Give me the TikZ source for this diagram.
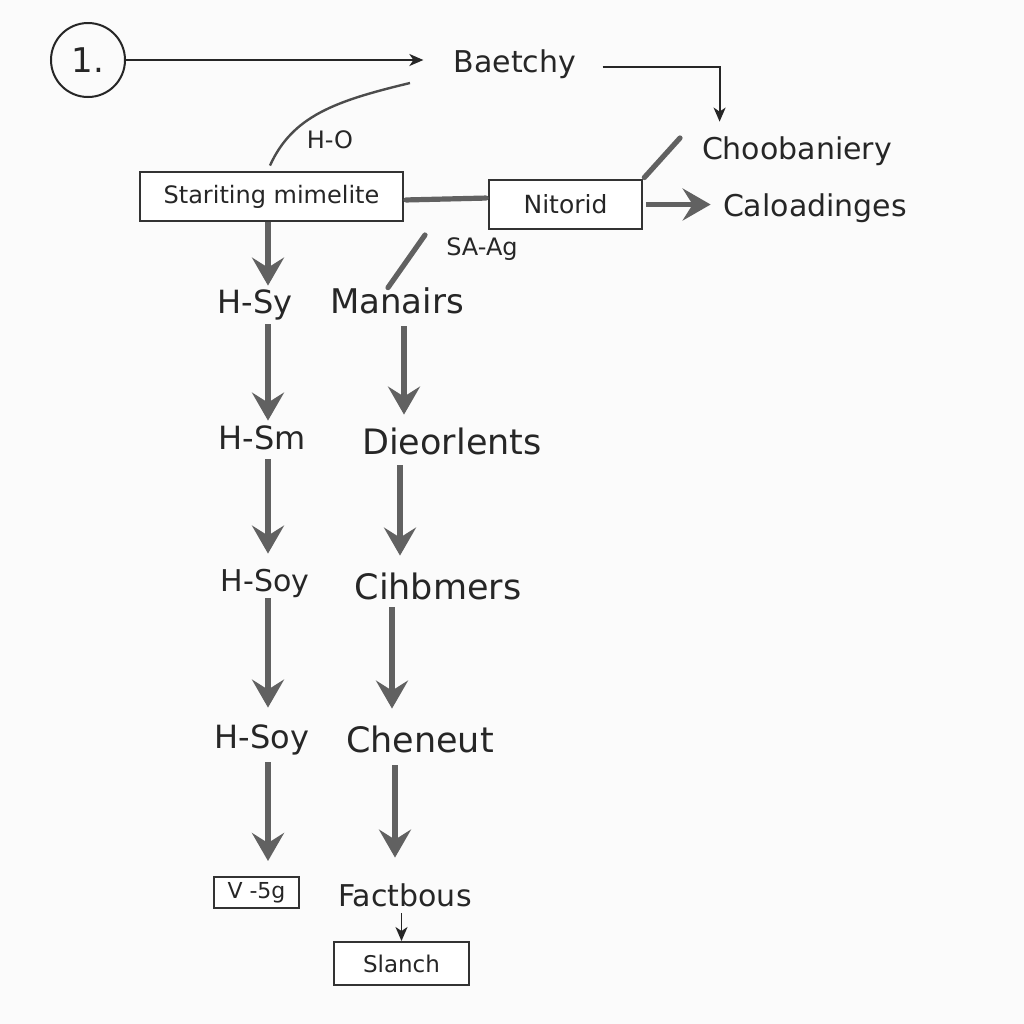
\documentclass[tikz,border=0pt]{standalone}
\usepackage{fontspec}
\setmainfont{DejaVu Sans}
\usetikzlibrary{arrows.meta}
\newcommand{\fs}[1]{\fontsize{#1}{#1}\selectfont}
\begin{document}
\begin{tikzpicture}[x=0.5pt,y=-0.5pt,
  txt/.style={text=black!85, inner sep=1pt, text height=0.75em, text depth=0.25em},
  box/.style={draw=black!80, line width=1pt, fill=white, inner sep=0pt, text=black!85},
  bigarr/.style={draw=black!62, line width=2.6pt, -{Stealth[length=14pt,width=16pt,inset=5pt]}},
  bigline/.style={draw=black!62, line width=2.6pt, line cap=round},
  thinarr/.style={draw=black!85, line width=0.9pt, -{Stealth[length=7pt,width=6pt,inset=2pt]}}
]
\fill[black!1.5] (0,0) rectangle (1024,1024);
\useasboundingbox (0,0) rectangle (1024,1024);

% nodes
\node[circle, draw=black!85, line width=1pt, minimum size=37pt, inner sep=0pt, font=\fs{17}, text=black!85] (circ) at (88,60) {1.};
\node[txt, font=\fs{15}] (baetchy) at (515,67) {Baetchy};
\node[txt, font=\fs{15}] (choob) at (797,154) {Choobaniery};
\node[txt, font=\fs{15}] (calo) at (815,211) {Caloadinges};
\node[box, minimum width=131.5pt, minimum height=24.5pt, font=\fs{12}] (start) at (271.5,196.5) {Stariting mimelite};
\node[box, minimum width=76.5pt, minimum height=24.5pt, font=\fs{12.5}] (nit) at (565.5,204.5) {Nitorid};
\node[txt, font=\fs{12}] (ho) at (330,143) {H-O};
\node[txt, font=\fs{12}] (saag) at (482,250) {SA-Ag};

\node[txt, font=\fs{16}] (hsy) at (255,308) {H-Sy};
\node[txt, font=\fs{17}] (manairs) at (397,308) {Manairs};
\node[txt, font=\fs{16}] (hsm) at (262,444) {H-Sm};
\node[txt, font=\fs{17.5}] (dieor) at (452,449) {Dieorlents};
\node[txt, font=\fs{15}] (hsoya) at (265,586) {H-Soy};
\node[txt, font=\fs{17.5}] (cihb) at (438,594) {Cihbmers};
\node[txt, font=\fs{16}] (hsoyb) at (262,743) {H-Soy};
\node[txt, font=\fs{17.5}] (chen) at (420,747) {Cheneut};
\node[box, minimum width=42.5pt, minimum height=15.5pt, font=\fs{11}] (vg) at (256.5,892.5) {V -5g};
\node[txt, font=\fs{15}] (factb) at (405,901) {Factbous};
\node[box, minimum width=67.5pt, minimum height=21.5pt, font=\fs{11.5}] (slanch) at (401.5,963.5) {Slanch};

\coordinate (hoend) at (410,83);
\coordinate (chtip) at (680,138);
\coordinate (satip) at (425,235);

% top connectors
\draw[thinarr, shorten >=14pt] (circ) -- (circ -| baetchy.west);
\draw[thinarr, shorten <=12pt, shorten >=10pt] (baetchy.east) -| ([xshift=10pt]choob.north west);
\draw[draw=black!70, line width=1.2pt, shorten <=3pt] ([xshift=-2pt]start.north) .. controls +(25,-55) and +(-75,18) .. (hoend);
\draw[bigline, shorten <=1pt, shorten >=1pt] ([yshift=-1.75pt]start.east) -- ([yshift=3.25pt]nit.west);
\draw[bigline, shorten <=1pt] (nit.north east) -- (chtip);
\draw[bigarr, shorten <=1.5pt, shorten >=5pt] (nit.east) -- (nit.east -| calo.west);
\draw[bigline] ([xshift=-4.5pt, yshift=4pt]manairs.north) -- (satip);

% left column
\draw[bigarr, shorten >=5pt] ([xshift=-1.75pt]start.south) -- ([xshift=-1.75pt]start.south |- hsy.north);
\draw[bigarr, shorten <=2pt, shorten >=5.5pt] ([xshift=6.5pt]hsy.south) -- ([xshift=6.5pt]hsy.south |- hsm.north);
\draw[bigarr, shorten <=1.5pt, shorten >=10pt] ([xshift=3pt]hsm.south) -- ([xshift=3pt]hsm.south |- hsoya.north);
\draw[bigarr, shorten <=0pt, shorten >=11.5pt] ([xshift=1.5pt]hsoya.south) -- ([xshift=1.5pt]hsoya.south |- hsoyb.north);
\draw[bigarr, shorten <=3.5pt, shorten >=7.5pt] ([xshift=3pt]hsoyb.south) -- ([xshift=3pt]hsoyb.south |- vg.north);

% right column
\draw[bigarr, shorten <=3pt, shorten >=11pt] ([xshift=3.5pt]manairs.south) -- ([xshift=3.5pt]manairs.south |- dieor.north);
\draw[bigarr, shorten <=2pt, shorten >=13pt] ([xshift=-26pt]dieor.south) -- ([xshift=-26pt]dieor.south |- cihb.north);
\draw[bigarr, shorten <=0.5pt, shorten >=13pt] ([xshift=-23pt]cihb.south) -- ([xshift=-23pt]cihb.south |- chen.north);
\draw[bigarr, shorten <=3pt, shorten >=15.5pt] ([xshift=-12.5pt]chen.south) -- ([xshift=-12.5pt]chen.south |- factb.north);
\draw[thinarr] (slanch.north |- factb.south) -- (slanch.north);
\end{tikzpicture}
\end{document}
